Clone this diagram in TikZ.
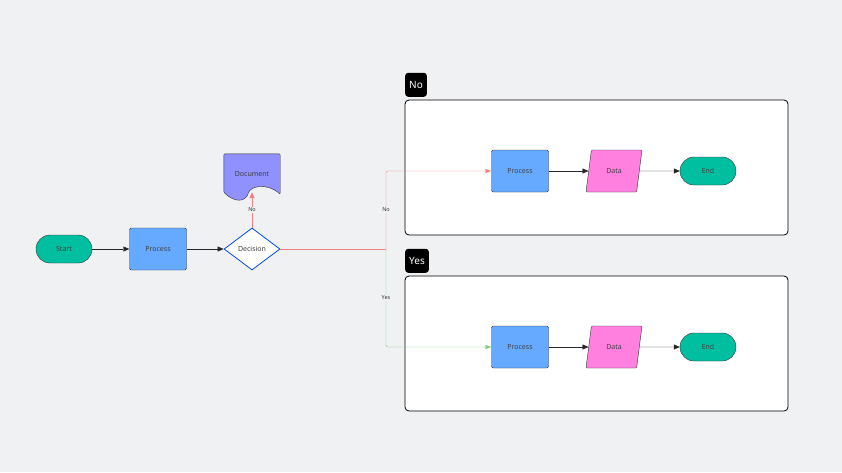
\documentclass[tikz,border=0pt]{standalone}
\usepackage{fontspec}
\setmainfont{Noto Sans}
\usetikzlibrary{arrows.meta,shapes.geometric,calc,positioning}
\definecolor{bg}{HTML}{F0F1F3}
\definecolor{teal}{HTML}{00BFA0}
\definecolor{procblue}{HTML}{66AAFF}
\definecolor{datapink}{HTML}{FF80DF}
\definecolor{docpurple}{HTML}{9090FF}
\definecolor{nored}{HTML}{F08080}
\definecolor{yesgreen}{HTML}{80CC80}
\tikzset{
    base/.style={draw=black!80, font=\fontsize{7}{8}\selectfont, text=black!75, inner sep=0pt},
    terminal/.style={base, fill=teal, rounded corners=14pt, minimum width=56pt, minimum height=28pt},
    process/.style={base, fill=procblue, rounded corners=1.5pt, minimum width=57pt, minimum height=42pt},
    data/.style={base, fill=datapink, trapezium, trapezium left angle=70, trapezium right angle=110,
        trapezium stretches=true, minimum width=56pt, minimum height=42pt, rounded corners=1pt},
    decision/.style={base, draw=blue!70!cyan, fill=white, thick, diamond, aspect=1.33,
        minimum width=56pt, minimum height=42pt},
    frame/.style={draw=black, thick, fill=white, rounded corners=4pt},
    tag/.style={fill=black, text=white, rounded corners=3pt, font=\fontsize{10}{12}\selectfont,
        minimum height=24pt, inner sep=4pt},
    lbl/.style={font=\fontsize{5.5}{6}\selectfont\bfseries, text=black!80, fill=bg, inner sep=1pt},
    flow/.style={-{Triangle[length=6pt,width=5pt]}, draw=black!85},
}
\begin{document}
\begin{tikzpicture}[x=1pt,y=-1pt]
    \fill[bg] (0,0) rectangle (842,472);
    \useasboundingbox (0,0) rectangle (842,472);
    % frames
    \draw[frame] (405,100) rectangle (788,235);
    \draw[frame] (405,276) rectangle (788,411);
    \node[tag, anchor=south west] (tagno) at (405,97) {No};
    \node[tag, anchor=south west] (tagyes) at (405,273) {Yes};
    % main flow
    \node[terminal] (start) at (64,249) {Start};
    \node[process] (proc) at (158,249) {Process};
    \node[decision] (dec) at (252,249) {Decision};
    \node[minimum width=56pt, minimum height=42pt, font=\fontsize{7}{8}\selectfont] (doc) at (252,175) {};
    \draw[draw=black!80, fill=docpurple, rounded corners=1pt]
        (doc.north west) -- (doc.north east) -- ($(doc.south east)+(0,-2)$)
        .. controls ($(doc.south east)+(-14,-14)$) and ($(doc.south)+(-2,-10)$) .. ($(doc.south)+(-4,-2)$)
        .. controls ($(doc.south)+(-8,6)$) and ($(doc.south west)+(10,6)$) .. ($(doc.south west)+(0,-4)$) -- cycle;
    \node[font=\fontsize{7}{8}\selectfont, text=black!75] at ($(doc.center)+(0,-1)$) {Document};
    \coordinate (split) at (386,249);
    % no branch
    \node[process] (procno) at (520,171) {Process};
    \node[data] (datano) at (614,171) {Data};
    \node[terminal] (endno) at (708,171) {End};
    % yes branch
    \node[process] (procyes) at (520,347) {Process};
    \node[data] (datayes) at (614,347) {Data};
    \node[terminal] (endyes) at (708,347) {End};
    \draw[flow] (start) -- (proc);
    \draw[flow] (proc) -- (dec);
    \draw[-{Triangle[length=6pt,width=5pt]}, draw=nored, thick] (dec) -- node[lbl] {No} ($(doc.south)+(0,-4)$);
    \draw[draw=nored] (dec) -- (split);
    \draw[-{Triangle[length=6pt,width=4pt]}, draw=nored, rounded corners=2pt]
        (split) -- node[lbl, pos=0.5] {No} (split |- procno) -- (procno);
    \draw[-{Triangle[length=6pt,width=4pt]}, draw=yesgreen, rounded corners=2pt]
        (split) -- node[lbl, pos=0.5] {Yes} (split |- procyes) -- (procyes);
    \draw[flow] (procno) -- (datano);
    \draw[flow] (datano) -- (endno);
    \draw[flow] (procyes) -- (datayes);
    \draw[flow] (datayes) -- (endyes);
\end{tikzpicture}
\end{document}
